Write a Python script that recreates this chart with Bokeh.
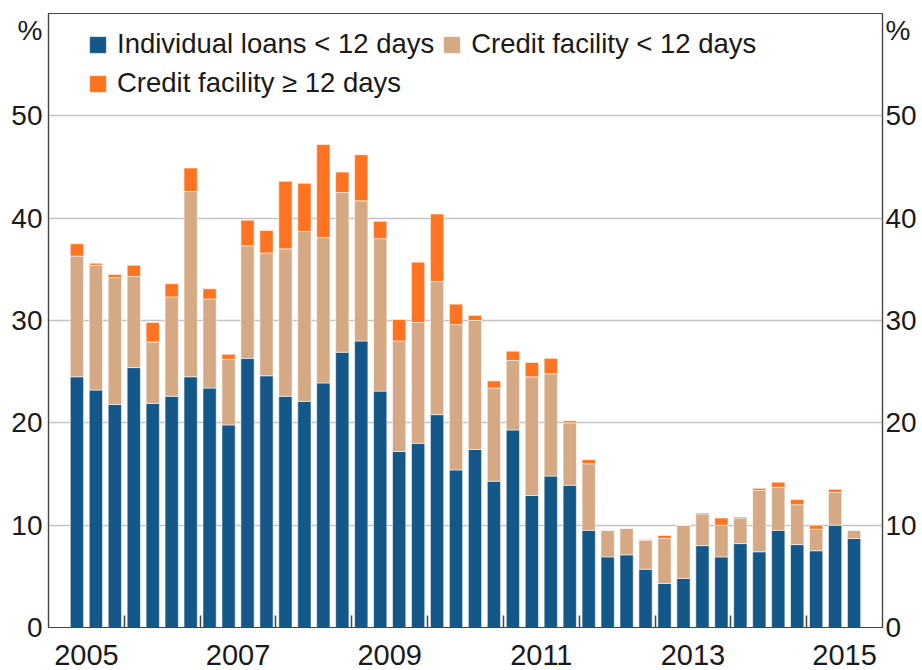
from bokeh.plotting import figure
from bokeh.models import (ColumnDataSource, FixedTicker, LinearAxis, Range1d,
                          Legend, LegendItem)
from bokeh.embed import file_html
from bokeh.resources import INLINE

# ---- data (quarterly, 2005 Q2 to 2015 Q3) ----
start_year, start_q = 2005, 2
n_q = 42
quarters = []
y_, q_ = start_year, start_q
for _ in range(n_q):
    quarters.append((y_, q_))
    q_ += 1
    if q_ > 4:
        q_, y_ = 1, y_ + 1

individual_lt12 = [24.5, 23.2, 21.8, 25.4, 21.9, 22.6, 24.5, 23.4, 19.8, 26.3,
                   24.6, 22.6, 22.1, 23.9, 26.9, 28.0, 23.1, 17.2, 18.0, 20.8,
                   15.4, 17.4, 14.3, 19.3, 12.9, 14.8, 13.9, 9.5, 6.9, 7.1,
                   5.7, 4.3, 4.8, 8.0, 6.9, 8.2, 7.4, 9.5, 8.1, 7.5, 10.0, 8.7]
credit_lt12 = [11.8, 12.2, 12.4, 8.9, 6.0, 9.7, 18.1, 8.7, 6.4, 11.0,
               12.0, 14.4, 16.6, 14.2, 15.6, 13.7, 14.9, 10.8, 11.8, 13.0,
               14.2, 12.6, 9.1, 6.8, 11.6, 10.0, 6.1, 6.5, 2.6, 2.6,
               2.8, 4.4, 5.2, 3.1, 3.1, 2.5, 6.0, 4.2, 3.9, 2.1, 3.2, 0.8]
credit_ge12 = [1.2, 0.2, 0.3, 1.1, 1.9, 1.3, 2.3, 1.0, 0.5, 2.5,
               2.2, 6.6, 4.7, 9.1, 2.0, 4.5, 1.7, 2.1, 5.9, 6.6,
               2.0, 0.5, 0.7, 0.9, 1.4, 1.5, 0.2, 0.4, 0.0, 0.0,
               0.1, 0.3, 0.0, 0.1, 0.7, 0.1, 0.2, 0.5, 0.5, 0.4, 0.3, 0.0]

series_labels = ["Individual loans < 12 days", "Credit facility < 12 days",
                 "Credit facility \u2265 12 days"]
series_colors = ["#14588A", "#D4A983", "#FF7321"]
label_years = [2005, 2007, 2009, 2011, 2013, 2015]
year_bounds = list(range(2006, 2016))
y_ticks = [0, 10, 20, 30, 40, 50]
unit_pos = 58.3  # where the "%" unit label sits on each y axis

FONT = "Liberation Sans"
TXT = "#1a1a1a"
AX = "#444444"

x = [yy + (qq - 0.5) / 4 for yy, qq in quarters]
source = ColumnDataSource(dict(x=x, a=individual_lt12, b=credit_lt12, c=credit_ge12))

p = figure(frame_width=834, frame_height=614,
           x_range=Range1d(2005, 2016), y_range=Range1d(0, 60),
           output_backend="svg", toolbar_location=None,
           min_border_left=48, min_border_right=34, min_border_top=13,
           min_border_bottom=43)
p.background_fill_color = "white"
p.border_fill_color = "white"
p.outline_line_color = AX
p.outline_line_width = 1.2

rs = p.vbar_stack(["a", "b", "c"], x="x", width=0.175, source=source,
                  fill_color=series_colors, line_color="white",
                  line_alpha=0.55, line_width=1)

# grid
p.xgrid.visible = False
p.ygrid.ticker = FixedTicker(ticks=[10, 20, 30, 40, 50])
p.ygrid.grid_line_color = "#c4c4c4"
p.ygrid.grid_line_width = 1.5

# x axis
xa = p.xaxis[0]
xa.ticker = FixedTicker(ticks=[yv + 0.5 for yv in label_years], minor_ticks=year_bounds)
xa.major_label_overrides = {yv + 0.5: str(yv) for yv in label_years}
xa.major_tick_in = 0
xa.major_tick_out = 0
xa.minor_tick_in = 12
xa.minor_tick_out = 0
xa.minor_tick_line_color = AX
xa.minor_tick_line_width = 1.5
xa.axis_line_color = AX
xa.axis_line_width = 1.2
xa.major_label_text_font = FONT
xa.major_label_text_font_size = "29px"
xa.major_label_text_color = TXT
xa.major_label_standoff = 17

# y axes
ya = p.yaxis[0]
ra = LinearAxis()
p.add_layout(ra, "right")
for ax in (ya, ra):
    ax.ticker = FixedTicker(ticks=y_ticks + [unit_pos])
    ax.major_label_overrides = {unit_pos: "%"}
    ax.major_tick_in = 0
    ax.major_tick_out = 0
    ax.minor_tick_line_color = None
    ax.axis_line_color = AX
    ax.axis_line_width = 1.2
    ax.major_label_text_font = FONT
    ax.major_label_text_font_size = "28px"
    ax.major_label_text_color = TXT
ya.major_label_standoff = 6
ra.major_label_standoff = 3

# legend
legend = Legend(items=[LegendItem(label=lab, renderers=[r])
                       for lab, r in zip(series_labels, rs)],
                orientation="horizontal", ncols=2,
                location=(39, 528), padding=0, margin=0, spacing=7,
                glyph_width=21, glyph_height=21, label_standoff=9,
                label_text_font=FONT, label_text_font_size="27.5px",
                label_text_color=TXT, background_fill_alpha=0,
                border_line_alpha=0)
p.add_layout(legend, "center")

open("out.html", "w").write(file_html(p, INLINE))
